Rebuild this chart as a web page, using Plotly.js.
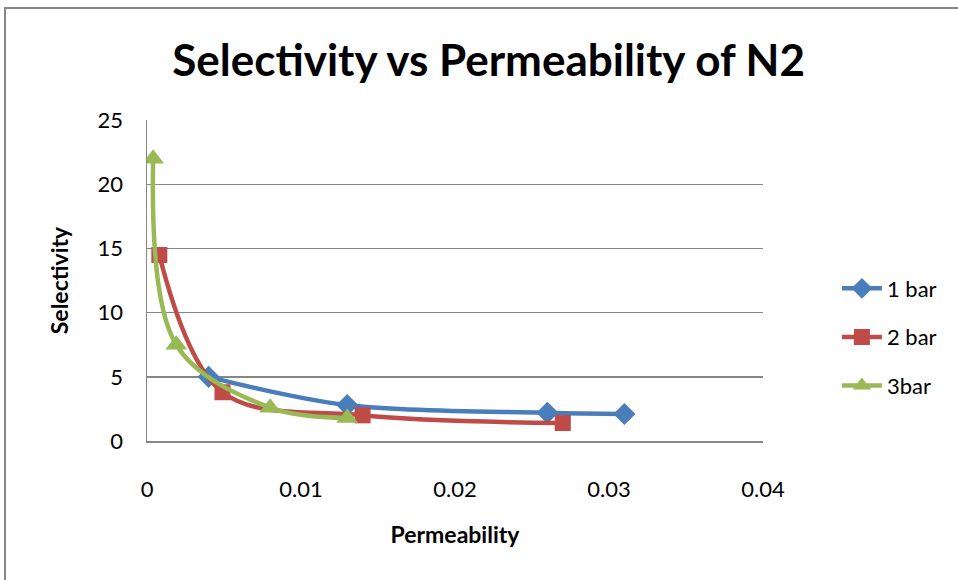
<!DOCTYPE html>
<html><head><meta charset="utf-8">
<script src="https://cdn.plot.ly/plotly-3.0.1.min.js"></script>
<style>body{margin:0;background:#fff}#chart{width:958px;height:580px}</style>
</head><body><div id="chart"></div>
<script>
const seriesNames = ["1 bar", "2 bar", "3bar"];
const perm1 = [0.004, 0.013, 0.026, 0.031];
const sel1 = [5.0, 2.8, 2.2, 2.1];
const perm2 = [0.0008, 0.0049, 0.014, 0.027];
const sel2 = [14.5, 3.8, 2.0, 1.4];
const perm3 = [0.0004, 0.0019, 0.008, 0.013];
const sel3 = [22, 7.5, 2.6, 1.8];
const xTicks = [0, 0.01, 0.02, 0.03, 0.04];
const xTickText = ["0", "0.01", "0.02", "0.03", "0.04"];
const yTicks = [0, 5, 10, 15, 20, 25];

const colors = ["#4A7EBB", "#BE4B48", "#98B954"];
const symbols = ["diamond", "square", "triangle-up"];
const sizes = [17, 16, 19];
const xs = [perm1, perm2, perm3];
const ys = [sel1, sel2, sel3];
const font = "Lato, 'Open Sans', 'Liberation Sans', sans-serif";

const traces = seriesNames.map((n, i) => ({
  x: xs[i], y: ys[i], name: n, type: "scatter", mode: "lines+markers",
  legendgroup: "g" + i,
  line: {color: colors[i], width: 4.5, shape: "spline", smoothing: 1},
  marker: {color: colors[i], symbol: symbols[i], size: sizes[i]}
}));

const layout = {
  width: 958, height: 580,
  margin: {l: 147, r: 195, t: 120, b: 139},
  paper_bgcolor: "#fff", plot_bgcolor: "#fff",
  font: {family: font, color: "#000", size: 22},
  title: {text: "<b>Selectivity vs Permeability of N2</b>", font: {size: 44, family: font},
          x: 0.51, xanchor: "center", y: 0.895, yanchor: "middle"},
  xaxis: {range: [0, 0.04], tickvals: xTicks, ticktext: xTickText, showgrid: false,
          zeroline: false, showline: true, linecolor: "#868686", linewidth: 1.5,
          ticks: "", tickfont: {size: 22}, ticklabelstandoff: 28, automargin: false,
          title: {text: "<b>Permeability</b>", font: {size: 23}, standoff: 26}},
  yaxis: {range: [0, 25.02], tickvals: yTicks, showgrid: true, gridcolor: "#868686", gridwidth: 1.5,
          zeroline: false, showline: true, linecolor: "#868686", linewidth: 1.5,
          ticks: "", tickfont: {size: 22}, ticklabelstandoff: 18, automargin: false,
          title: {text: "<b>Selectivity</b>", font: {size: 23}, standoff: 22}},
  legend: {x: 1.12, y: 0.324, xanchor: "left", yanchor: "middle", font: {size: 22},
           tracegroupgap: 17, itemwidth: 40},
  showlegend: true,
  shapes: [{type: "rect", xref: "paper", yref: "paper", x0: -0.2305, x1: 2, y0: -2, y1: 1.349,
            line: {color: "#868686", width: 2}, fillcolor: "rgba(0,0,0,0)", layer: "below"}]
};
Plotly.newPlot("chart", traces, layout, {displayModeBar: false, staticPlot: true});
</script></body></html>
